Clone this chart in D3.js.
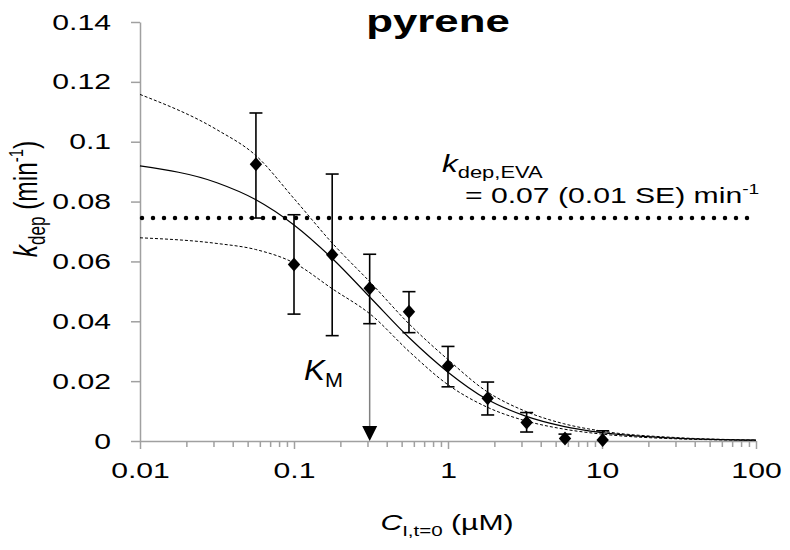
<!DOCTYPE html>
<html>
<head>
<meta charset="utf-8">
<script src="https://cdn.jsdelivr.net/npm/d3@7"></script>
<style>
  body { margin: 0; background: #fff; }
  text { font-family: "Liberation Sans", Arial, sans-serif; fill: #000; }
</style>
</head>
<body>
<svg id="chart" width="790" height="550"></svg>
<script>
// measured points: initial concentration (uM) vs kdep (min-1)
var conc   = [0.0566, 0.1, 0.177, 0.31, 0.558, 1.0, 1.81, 3.24, 5.75, 10.1];
var kdep   = [0.0925, 0.059, 0.0622, 0.051, 0.0432, 0.0251, 0.0143, 0.0062, 0.0008, 0.0003];
var errHi  = [0.1096, 0.0756, 0.0892, 0.0624, 0.0499, 0.0316, 0.0197, 0.0095, 0.0023, 0.0034];
var errLo  = [0.0745, 0.0424, 0.0352, 0.0392, 0.0362, 0.0181, 0.0087, 0.0030, 0.0000, 0.0000];

// fitted curve and its band, read at these concentrations
var fitConc  = [0.01, 0.0316, 0.0562, 0.1, 0.178, 0.316, 0.562, 1, 1.78, 3.16, 5.62, 10, 31.6, 100];
var fitMid   = [0.0919, 0.0863, 0.0807, 0.0722, 0.0609, 0.0477, 0.0344, 0.0230, 0.0140, 0.0084, 0.0049, 0.0028, 0.0009, 0.0003];
var fitUpper = [0.1158, 0.1040, 0.0955, 0.0810, 0.0660, 0.0528, 0.0390, 0.0272, 0.0166, 0.0100, 0.0058, 0.0033, 0.0011, 0.00035];
var fitLower = [0.0679, 0.0660, 0.0640, 0.0595, 0.0508, 0.0422, 0.0298, 0.0188, 0.0114, 0.0068, 0.0040, 0.0023, 0.0007, 0.00025];

var kEVA = 0.0745;
var KM = 0.31;
var KMk = 0.048;

var yTicks = [0, 0.02, 0.04, 0.06, 0.08, 0.1, 0.12, 0.14];
var xTicks = [0.01, 0.1, 1, 10, 100];
var xTickLabels = ["0.01", "0.1", "1", "10", "100"];

var svg = d3.select("#chart");
var x = d3.scaleLog().domain([0.01, 100]).range([140, 756]);
var y = d3.scaleLinear().domain([0, 0.14]).range([441, 22]);

var axisColor = "#a0a0a0";
var sx = 1.37; // text in the original is drawn wide

// minor ticks on x
var minor = [];
xTicks.slice(0, -1).forEach(function (d) {
    for (var i = 2; i <= 9; i++) minor.push(d * i);
});

var gxMinor = svg.append("g")
    .attr("transform", "translate(0,441)")
    .call(d3.axisBottom(x).tickValues(minor).tickSize(6).tickFormat(""));

var gx = svg.append("g")
    .attr("transform", "translate(0,441)")
    .call(d3.axisBottom(x).tickValues(xTicks).tickSize(8).tickSizeOuter(0).tickPadding(13)
        .tickFormat(function (d, i) { return xTickLabels[i]; }));

var gy = svg.append("g")
    .attr("transform", "translate(140,0)")
    .call(d3.axisLeft(y).tickValues(yTicks).tickSize(9).tickSizeOuter(0).tickPadding(20)
        .tickFormat(function (d) { return String(+d.toFixed(2)); }));

[gxMinor, gx, gy].forEach(function (g) {
    g.selectAll("path, line").attr("stroke", axisColor).attr("stroke-width", 1.5);
    g.selectAll("text").attr("font-size", 22).attr("fill", "#000")
        .attr("font-family", "Liberation Sans, Arial, sans-serif")
        .attr("transform", "scale(" + sx + ",1)");
});
gy.selectAll("text").attr("x", -29 / sx);
gxMinor.select(".domain").remove();

// EVA reference line
svg.append("line")
    .attr("x1", x(0.01) + 2).attr("x2", x(100) - 4)
    .attr("y1", y(kEVA)).attr("y2", y(kEVA))
    .attr("stroke", "#000").attr("stroke-width", 4.5)
    .attr("stroke-linecap", "round").attr("stroke-dasharray", "0,11");

// fit and band
var line = d3.line()
    .x(function (d) { return x(d[0]); })
    .y(function (d) { return y(d[1]); })
    .curve(d3.curveMonotoneX);

function pairs(vals) { return fitConc.map(function (c, i) { return [c, vals[i]]; }); }

svg.append("path").datum(pairs(fitUpper)).attr("d", line)
    .attr("fill", "none").attr("stroke", "#000").attr("stroke-width", 1).attr("stroke-dasharray", "3,2");
svg.append("path").datum(pairs(fitLower)).attr("d", line)
    .attr("fill", "none").attr("stroke", "#000").attr("stroke-width", 1).attr("stroke-dasharray", "3,2");
svg.append("path").datum(pairs(fitMid)).attr("d", line)
    .attr("fill", "none").attr("stroke", "#000").attr("stroke-width", 1.2);

// KM arrow
svg.append("line")
    .attr("x1", x(KM)).attr("x2", x(KM))
    .attr("y1", y(KMk)).attr("y2", y(0) - 12)
    .attr("stroke", "#808080").attr("stroke-width", 1.5);
svg.append("path")
    .attr("d", "M" + (x(KM) - 7.5) + "," + (y(0) - 15) + "L" + (x(KM) + 7.5) + "," + (y(0) - 15) +
        "L" + x(KM) + "," + y(0) + "Z")
    .attr("fill", "#000");

// error bars
var pts = conc.map(function (c, i) { return { c: c, k: kdep[i], hi: errHi[i], lo: errLo[i] }; });
var eb = svg.append("g").attr("stroke", "#000").attr("stroke-width", 1.6);
pts.forEach(function (p) {
    var cx = x(p.c);
    eb.append("line").attr("x1", cx).attr("x2", cx).attr("y1", y(p.hi)).attr("y2", y(p.lo));
    eb.append("line").attr("x1", cx - 6.5).attr("x2", cx + 6.5).attr("y1", y(p.hi)).attr("y2", y(p.hi));
    if (p.lo > 0) {
        eb.append("line").attr("x1", cx - 6.5).attr("x2", cx + 6.5).attr("y1", y(p.lo)).attr("y2", y(p.lo));
    }
});

// diamonds
svg.append("g").selectAll("path").data(pts).join("path")
    .attr("transform", function (d) { return "translate(" + x(d.c) + "," + y(d.k) + ")"; })
    .attr("d", "M0,-7L6.2,0L0,7L-6.2,0Z")
    .attr("fill", "#000");

// text placed in a stretched group
function label(px, py, size, anchor, extra) {
    return svg.append("g")
        .attr("transform", "translate(" + px + "," + py + ") " + (extra || "scale(" + sx + ",1)"))
        .append("text").attr("font-size", size).attr("text-anchor", anchor || "start");
}

// title
label(438, 32, 32, "middle").attr("font-weight", "bold").text("pyrene");

// EVA annotation
var t1 = label(442, 172, 23);
t1.append("tspan").attr("font-style", "italic").text("k");
t1.append("tspan").attr("font-size", 16).attr("dy", 6).text("dep,EVA");
var t2 = label(465, 203, 22);
t2.append("tspan").text("= 0.07 (0.01 SE) min");
t2.append("tspan").attr("font-size", 14).attr("dy", -9).text("-1");

// KM label
var t3 = label(304, 380, 29, "start", "scale(1.08,1)");
t3.append("tspan").attr("font-style", "italic").text("K");
t3.append("tspan").attr("font-size", 20).attr("dy", 7).text("M");

// x title
var tx = label(447, 530, 22, "middle");
tx.append("tspan").attr("font-style", "italic").text("C");
tx.append("tspan").attr("font-size", 15).attr("dy", 6).text("I,t=0");
tx.append("tspan").attr("dy", -6).text(" (µM)");

// y title
var ty = label(37, 199, 24.5, "middle", "scale(" + sx + ",1) rotate(-90)");
ty.append("tspan").attr("font-style", "italic").text("k");
ty.append("tspan").attr("font-size", 17).attr("dy", 6).text("dep");
ty.append("tspan").attr("dy", -6).text(" (min");
ty.append("tspan").attr("font-size", 15).attr("dy", -10).text("-1");
ty.append("tspan").attr("dy", 10).text(")");
</script>
</body>
</html>
